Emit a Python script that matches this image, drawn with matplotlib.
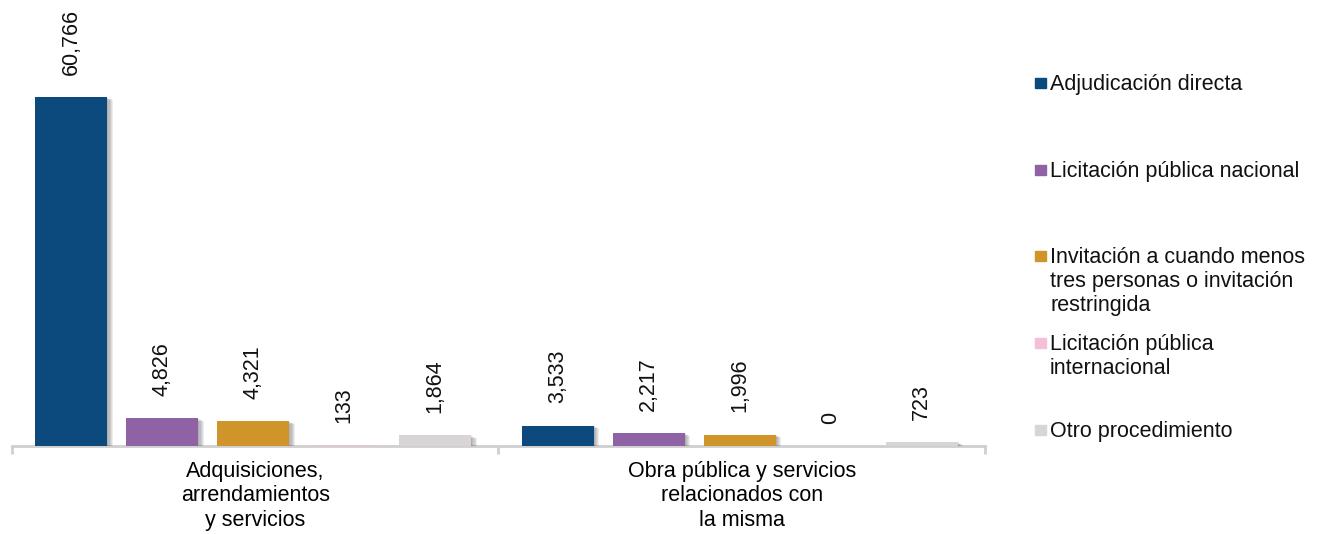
import matplotlib
matplotlib.use("Agg")
import matplotlib.pyplot as plt
import matplotlib.patheffects as pe
from matplotlib.patches import Rectangle
import numpy as np

plt.rcParams['font.family'] = ['Liberation Sans', 'DejaVu Sans']

categories = ["Adquisiciones,\narrendamientos\ny servicios",
              "Obra pública y servicios\nrelacionados con\nla misma"]
series_names = ["Adjudicación directa",
                "Licitación pública nacional",
                "Invitación a cuando menos\ntres personas o invitación\nrestringida",
                "Licitación pública\ninternacional",
                "Otro procedimiento"]
adjudicacion = [60766, 3533]
lic_nacional = [4826, 2217]
invitacion = [4321, 1996]
lic_internacional = [133, 0]
otro = [1864, 723]
series_values = [adjudicacion, lic_nacional, invitacion, lic_internacional, otro]
colors = ["#0C4A7E", "#8F62A5", "#D0952A", "#F5BFD9", "#D9D5D6"]

W, H = 1318, 534
fig = plt.figure(figsize=(W / 100, H / 100), dpi=100)
ax = fig.add_axes([12 / W, (H - 446) / H, (985 - 12) / W, 446 / H])

FS = 15.5
x = np.arange(len(categories))
step = 0.187
width = 0.148
shift = -0.004
shadow = [pe.SimplePatchShadow(offset=(o, -o * 0.5), shadow_rgbFace='k', alpha=0.07)
          for o in (0.8, 1.6, 2.4, 3.2, 4.0)] + [pe.Normal()]

for i, (vals, col) in enumerate(zip(series_values, colors)):
    pos = x + (i - 2) * step + shift
    bars = ax.bar(pos, vals, width=width, color=col, zorder=3)
    for b in bars:
        if b.get_height() > 0:
            b.set_path_effects(shadow)
    for p, v in zip(pos, vals):
        ax.annotate(f"{v:,}", xy=(p, v), xytext=(0, 16), textcoords='offset points',
                    rotation=90, ha='center', va='bottom', fontsize=FS, color='#111111')

ax.set_xlim(-0.5, 1.5)
ax.set_ylim(0, 77650)
for s in ['top', 'right', 'left']:
    ax.spines[s].set_visible(False)
ax.spines['bottom'].set_color('#CFCFCF')
ax.spines['bottom'].set_linewidth(2)
ax.spines['bottom'].set_zorder(2)
ax.set_yticks([])
ax.set_xticks(x)
ax.set_xticklabels(categories, fontsize=FS, linespacing=1.2)
ax.tick_params(axis='x', which='major', length=0, pad=11)
ax.set_xticks([-0.5, 0.5, 1.5], minor=True)
ax.tick_params(axis='x', which='minor', length=6, width=2, color='#CFCFCF')

# legend
centers = [83, 170, 256, 343, 430]
for name, col, cy in zip(series_names, colors, centers):
    fig.patches.append(Rectangle(((1035) / W, (H - cy - 5) / H), 10.5 / W, 10.5 / H,
                                 transform=fig.transFigure, color=col))
    fig.text(1050 / W, (H - cy + 9) / H, name, fontsize=FS, va='top', ha='left',
             linespacing=1.2, color='#111111')

fig.savefig("out.png", dpi=100)
